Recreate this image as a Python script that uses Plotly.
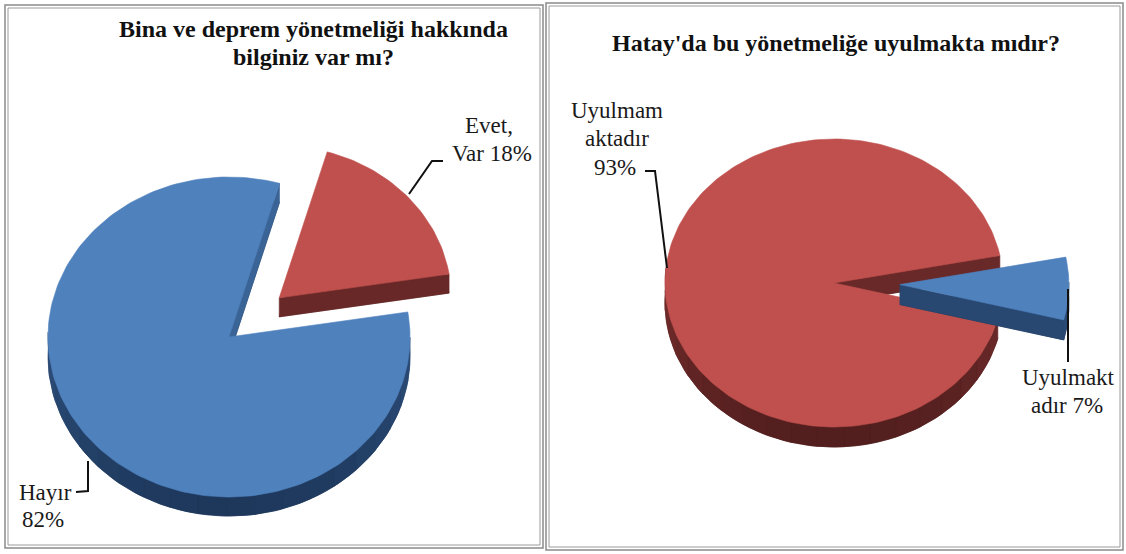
import numpy as np
import plotly.graph_objects as go

# ---- data -------------------------------------------------------------
left_title = ["Bina ve deprem yönetmeliği hakkında", "bilginiz var mı?"]
left_categories = ["Hayır", "Evet, Var"]
left_values = [82, 18]
left_label_lines = [["Hayır", "{}%"], ["Evet,", "Var {}%"]]

right_title = ["Hatay'da bu yönetmeliğe uyulmakta mıdır?"]
right_categories = ["Uyulmaktadır", "Uyulmamaktadır"]
right_values = [7, 93]
right_label_lines = [["Uyulmakt", "adır {}%"], ["Uyulmam", "aktadır", "{}%"]]

BLUE = {"top": (79, 129, 189), "rim": (30, 56, 92)}
RED = {"top": (192, 80, 77), "rim": (82, 30, 30)}
slice_styles = [BLUE, RED]

W, H = 1126, 554
SERIF = "Liberation Serif, Times New Roman, serif"


def rgb(c):
    return "rgb({},{},{})".format(*[int(round(v)) for v in c])


def mix(a, b, t):
    return tuple(a[i] * (1 - t) + b[i] * t for i in range(3))


def pt(cx, cy, rx, ry, ang_deg):
    a = np.radians(ang_deg)
    return cx + rx * np.sin(a), cy - ry * np.cos(a)


def poly(fig, xs, ys, color):
    xs = list(xs) + [xs[0]]
    ys = list(ys) + [ys[0]]
    fig.add_trace(go.Scatter(x=xs, y=ys, mode="lines", fill="toself",
                             fillcolor=color, line=dict(color=color, width=0.6),
                             hoverinfo="skip", showlegend=False))


def draw_pie(fig, values, cx, cy, rx, ry, depth, rotation, explode_idx, explode,
             explode_scale=1.0):
    total = float(sum(values))
    slices = []
    start = rotation
    for i, v in enumerate(values):
        span = 360.0 * v / total
        a0, a1 = start, start + span
        mid = (a0 + a1) / 2
        e = explode if i == explode_idx else 0.0
        sc = explode_scale if i == explode_idx else 1.0
        ox, oy = e * rx * np.sin(np.radians(mid)), -e * ry * np.cos(np.radians(mid))
        slices.append((i, a0, a1, cx + ox, cy + oy, sc))
        start = a1
    # back-to-front painting
    slices.sort(key=lambda s: s[4] - cy)
    for i, a0, a1, sx, sy, sc in slices:
        st = slice_styles[i]
        srx, sry = rx * sc, ry * sc
        n = max(8, int(abs(a1 - a0) / 1.5))
        angs = np.linspace(a0, a1, n)
        ax, ay = pt(sx, sy, srx, sry, angs)
        top_x = np.concatenate([[sx], ax])
        top_y = np.concatenate([[sy], ay])
        # underside
        poly(fig, top_x, top_y + depth, rgb(st["rim"]))
        # radial cut faces, shaded by how much they face the viewer
        for edge_ang, normal in ((a0, a0 - 90), (a1, a1 + 90)):
            fdown = np.cos(np.radians(normal - 180))
            if fdown <= 0:
                continue
            ex, ey = pt(sx, sy, srx, sry, edge_ang)
            t = 0.25 + 0.55 * fdown
            poly(fig, [sx, ex, ex, sx], [sy, ey, ey + depth, sy + depth],
                 rgb(mix(st["top"], st["rim"], t)))
        # outer rim, split into bands so the front is darkest
        step = 6
        k = 0
        while k < len(angs) - 1:
            seg = angs[k:k + step + 1]
            mid_a = np.mean(seg)
            front = -np.cos(np.radians(mid_a))
            if front > -0.05:
                px, py = pt(sx, sy, srx, sry, seg)
                t = 0.7 + 0.3 * max(front, 0)
                c = mix(st["top"], st["rim"], t)
                poly(fig, np.concatenate([px, px[::-1]]),
                     np.concatenate([py, (py + depth)[::-1]]), rgb(c))
            k += step
        # top face
        poly(fig, top_x, top_y, rgb(st["top"]))
    return slices


fig = go.Figure()

draw_pie(fig, left_values, cx=229, cy=337, rx=181, ry=160, depth=19,
         rotation=81, explode_idx=1, explode=0.37, explode_scale=0.95)
draw_pie(fig, right_values, cx=834, cy=283, rx=169, ry=144, depth=20,
         rotation=79, explode_idx=0, explode=0.39)

# leader lines
leaders = [
    ([409, 432, 443], [194, 161, 161]),
    ([88, 88, 76], [461, 491, 492]),
    ([645, 655, 667], [171, 171, 268]),
    ([1068, 1068], [289, 362]),
]
for lx, ly in leaders:
    fig.add_trace(go.Scatter(x=lx, y=ly, mode="lines",
                             line=dict(color="#111111", width=2),
                             hoverinfo="skip", showlegend=False))

label_font = dict(family=SERIF, size=23, color="#1a1a1a")
title_font = dict(family=SERIF, size=24, color="#111111")

annotations = []


def add_lines(lines, xs, ys, font, bold=False):
    for text, x, y in zip(lines, xs, ys):
        annotations.append(dict(x=x, y=y, text=("<b>%s</b>" % text) if bold else text,
                                font=font, xref="x", yref="y", showarrow=False,
                                xanchor="center", yanchor="middle"))


add_lines(left_title, [313, 313], [29, 57], title_font, bold=True)
add_lines(right_title, [836], [43], title_font, bold=True)
add_lines([s.format(left_values[0]) for s in left_label_lines[0]],
          [45, 43], [492, 519], label_font)
add_lines([s.format(left_values[1]) for s in left_label_lines[1]],
          [489, 492], [125, 153], label_font)
add_lines([s.format(right_values[0]) for s in right_label_lines[0]],
          [1068, 1067], [377, 405], label_font)
add_lines([s.format(right_values[1]) for s in right_label_lines[1]],
          [617, 617, 615], [110, 138, 167], label_font)

shapes = []
for (x0, y0, x1, y1) in [(5, 5, 543, 548), (546, 3, 1123, 550)]:
    shapes.append(dict(type="rect", xref="x", yref="y", x0=x0, y0=y0, x1=x1, y1=y1,
                       line=dict(color="#8a8a8a", width=1.5)))
    shapes.append(dict(type="rect", xref="x", yref="y", x0=x0 + 3, y0=y0 + 3,
                       x1=x1 - 3, y1=y1 - 3, line=dict(color="#9a9a9a", width=1)))

fig.update_layout(
    width=W, height=H,
    margin=dict(l=0, r=0, t=0, b=0),
    paper_bgcolor="white", plot_bgcolor="white",
    xaxis=dict(range=[0, W], visible=False, fixedrange=True),
    yaxis=dict(range=[H, 0], visible=False, fixedrange=True),
    annotations=annotations, shapes=shapes, showlegend=False,
)

fig.write_html("out.html")
